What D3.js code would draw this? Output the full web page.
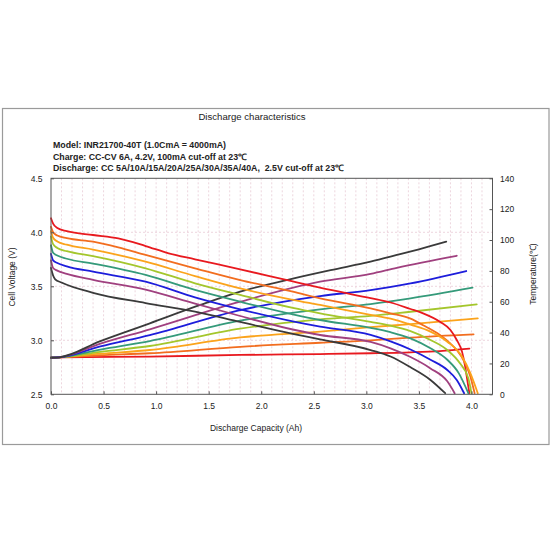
<!DOCTYPE html>
<html><head><meta charset="utf-8">
<script src="https://cdn.jsdelivr.net/npm/d3@7"></script>
<style>
body{margin:0;background:#fff}
svg{display:block}
text{font-family:"Liberation Sans",Arial,Helvetica,sans-serif;fill:#222}
</style>
</head><body>
<svg id="chart" width="550" height="550"></svg>
<script>
// ---------- data ----------
const titleText = "Discharge characteristics";
const headerLines = [
  "Model: INR21700-40T (1.0CmA = 4000mA)",
  "Charge: CC-CV 6A, 4.2V, 100mA cut-off at 23\u2103",
  "Discharge: CC 5A/10A/15A/20A/25A/30A/35A/40A,  2.5V cut-off at 23\u2103"
];
const xTitle = "Discharge Capacity (Ah)";
const yLeftTitle = "Cell Voltage (V)";
const yRightTitle = "Temperature(\u2103)";

const capTicks = [0, 0.5, 1.0, 1.5, 2.0, 2.5, 3.0, 3.5, 4.0];
const voltTicks = [2.5, 3.0, 3.5, 4.0, 4.5];
const tempTicks = [0, 20, 40, 60, 80, 100, 120, 140];

const currents = ["5A", "10A", "15A", "20A", "25A", "30A", "35A", "40A"];
const seriesColors = ["#e8191f", "#f26d1f", "#fba31b", "#a4c62c", "#359a7a", "#1d1ddb", "#a0407f", "#3a3a3a"];

// voltage curves: [capacity Ah, voltage V]
const volt5A = [[0,4.13],[0.02,4.08],[0.06,4.04],[0.15,4.01],[0.4,3.975],[0.64,3.944],[0.9,3.873],[1.12,3.805],[1.37,3.75],[1.8,3.657],[2.3,3.545],[2.66,3.466],[3.04,3.39],[3.23,3.35],[3.42,3.29],[3.54,3.25],[3.70,3.172],[3.80,3.095],[3.86,3.003],[3.91,2.895],[3.94,2.756],[3.96,2.633],[3.98,2.51]];
const volt10A = [[0,4.05],[0.02,4.0],[0.06,3.97],[0.15,3.945],[0.4,3.913],[0.64,3.86],[0.9,3.79],[1.37,3.667],[1.8,3.558],[2.3,3.45],[2.56,3.389],[3.04,3.296],[3.23,3.25],[3.42,3.2],[3.54,3.14],[3.70,3.05],[3.80,2.97],[3.86,2.91],[3.94,2.787],[3.99,2.663],[4.03,2.51]];
const volt15A = [[0,4.01],[0.02,3.95],[0.06,3.915],[0.15,3.885],[0.4,3.84],[0.9,3.728],[1.37,3.595],[1.8,3.481],[2.3,3.375],[2.56,3.327],[3.04,3.235],[3.23,3.2],[3.42,3.145],[3.61,3.08],[3.77,2.987],[3.91,2.85],[3.99,2.694],[4.06,2.51]];
const volt20A = [[0,3.96],[0.02,3.89],[0.06,3.855],[0.15,3.825],[0.4,3.78],[0.9,3.667],[1.37,3.528],[1.8,3.42],[2.3,3.3],[2.56,3.25],[3.04,3.17],[3.23,3.135],[3.42,3.085],[3.61,3.003],[3.77,2.91],[3.89,2.787],[3.97,2.648],[4.0,2.51]];
const volt25A = [[0,3.88],[0.02,3.81],[0.06,3.785],[0.15,3.755],[0.4,3.71],[0.9,3.605],[1.37,3.466],[1.8,3.357],[2.3,3.24],[2.56,3.188],[3.04,3.115],[3.23,3.075],[3.42,3.018],[3.61,2.926],[3.77,2.82],[3.88,2.694],[3.97,2.51]];
const volt30A = [[0,3.80],[0.02,3.74],[0.06,3.715],[0.15,3.685],[0.4,3.635],[0.9,3.543],[1.37,3.398],[1.8,3.287],[2.3,3.175],[2.56,3.126],[3.04,3.05],[3.23,2.99],[3.42,2.915],[3.61,2.82],[3.77,2.725],[3.86,2.633],[3.93,2.51]];
const volt35A = [[0,3.74],[0.02,3.67],[0.06,3.645],[0.15,3.615],[0.4,3.56],[0.9,3.47],[1.37,3.34],[1.8,3.225],[2.3,3.1],[2.56,3.049],[3.04,2.985],[3.23,2.926],[3.42,2.845],[3.61,2.74],[3.77,2.62],[3.84,2.51]];
const volt40A = [[0,3.67],[0.02,3.6],[0.04,3.565],[0.1,3.535],[0.4,3.44],[0.9,3.345],[1.37,3.265],[1.8,3.17],[2.3,3.06],[2.56,3.009],[3.04,2.91],[3.23,2.85],[3.42,2.75],[3.61,2.633],[3.75,2.51]];

// temperature curves: [capacity Ah, temperature C]
const temp5A = [[0,23.7],[0.1,23.9],[0.94,24.4],[1.8,25.5],[2.56,26.1],[3.04,26.6],[3.42,27.2],[3.7,28],[3.98,29.6]];
const temp10A = [[0,23.7],[0.08,24],[0.47,25.3],[0.94,26.6],[1.8,30.8],[2.56,33.4],[3.04,35.0],[3.42,36.8],[4.02,38.9]];
const temp15A = [[0,23.7],[0.08,24],[0.47,26.3],[0.94,28.7],[1.8,36.9],[2.56,40.6],[3.04,43.5],[3.42,45.5],[4.06,49.2]];
const temp20A = [[0,23.7],[0.08,24],[0.47,27.5],[0.94,31.3],[1.8,42.5],[2.56,48.6],[3.04,50.8],[3.42,53.5],[4.05,58.3]];
const temp25A = [[0,23.7],[0.08,24],[0.47,29],[0.94,34.5],[1.8,47.7],[2.56,55.1],[3.04,58.5],[3.42,62.2],[4.01,69.1]];
const temp30A = [[0,23.7],[0.08,24],[0.47,31],[0.94,38.4],[1.8,54.6],[2.56,63.7],[3.04,67.5],[3.42,71.9],[3.95,79.9]];
const temp35A = [[0,23.7],[0.08,24],[0.47,32.8],[0.94,42.1],[1.8,60],[2.56,73],[3.04,78],[3.29,82],[3.86,89.8]];
const temp40A = [[0,23.7],[0.08,24],[0.47,34.5],[0.94,46],[1.42,57.9],[1.8,66.5],[2.3,75],[2.66,80.5],[3.04,86],[3.29,90.3],[3.5,94],[3.76,98.9]];

const voltSeries = [volt5A, volt10A, volt15A, volt20A, volt25A, volt30A, volt35A, volt40A];
const tempSeries = [temp5A, temp10A, temp15A, temp20A, temp25A, temp30A, temp35A, temp40A];

// ---------- layout ----------
const svg = d3.select("#chart");
const L = 51, R = 492.5, T = 178.3, B = 394.3;

const x = d3.scaleLinear().domain([0, 4.2]).range([L, R]);
const yV = d3.scaleLinear().domain([2.5, 4.5]).range([B, T]);
const yT = d3.scaleLinear().domain([0, 140]).range([B, T]);

svg.append("rect").attr("width", 550).attr("height", 550).attr("fill", "#fff");

// outer frame
svg.append("rect")
  .attr("x", 2.5).attr("y", 108.5).attr("width", 546.5).attr("height", 336)
  .attr("fill", "none").attr("stroke", "#9a9a9a").attr("stroke-width", 1.2);

// title + header
svg.append("text").attr("x", 252).attr("y", 119.5).attr("text-anchor", "middle")
  .style("font-size", "9.6px").text(titleText);
svg.append("g").selectAll("text").data(headerLines).join("text")
  .attr("x", 53).attr("y", (d, i) => 148 + i * 11.5)
  .attr("xml:space", "preserve").style("white-space", "pre")
  .style("font-size", "8.8px").style("font-weight", "bold").text(d => d);

// grid
const grid = svg.append("g");
grid.selectAll("line.v").data(d3.range(1, 42).map(d => d / 10)).join("line")
  .attr("class", "v")
  .attr("x1", d => x(d)).attr("x2", d => x(d)).attr("y1", T).attr("y2", B)
  .attr("stroke", "#e8cbd6").attr("stroke-width", 0.8).attr("stroke-dasharray", "2,2");
grid.selectAll("line.h").data(voltTicks.slice(1, -1)).join("line")
  .attr("class", "h")
  .attr("x1", L).attr("x2", R).attr("y1", d => yV(d)).attr("y2", d => yV(d))
  .attr("stroke", "#e8cbd6").attr("stroke-width", 0.8).attr("stroke-dasharray", "2,2");

// curves
const lineV = d3.line().x(d => x(d[0])).y(d => yV(d[1])).curve(d3.curveMonotoneX);
const lineT = d3.line().x(d => x(d[0])).y(d => yT(d[1])).curve(d3.curveMonotoneX);
const curves = svg.append("g").attr("fill", "none").attr("stroke-linejoin", "round").attr("stroke-linecap", "round");
tempSeries.forEach((s, i) => {
  curves.append("path").attr("d", lineT(s)).attr("stroke", seriesColors[i]).attr("stroke-width", 1.8);
});
voltSeries.forEach((s, i) => {
  curves.append("path").attr("d", lineV(s)).attr("stroke", seriesColors[i]).attr("stroke-width", 1.8);
});

// axes
const axisStyle = g => {
  g.select(".domain").remove();
  g.selectAll(".tick line").attr("stroke", "#555");
  g.selectAll("text").style("font-size", "8.5px").attr("fill", "#222")
    .style("font-family", "'Liberation Sans', Arial, sans-serif");
};
svg.append("g").attr("transform", `translate(0,${B})`)
  .call(d3.axisBottom(x).tickValues(capTicks).tickFormat(d3.format(".1f")).tickSizeInner(-3).tickSizeOuter(0).tickPadding(9))
  .call(axisStyle);
svg.append("g").attr("transform", `translate(${L},0)`)
  .call(d3.axisLeft(yV).tickValues(voltTicks).tickFormat(d3.format(".1f")).tickSizeInner(-3).tickSizeOuter(0).tickPadding(8.5))
  .call(axisStyle);
svg.append("g").attr("transform", `translate(${R},0)`)
  .call(d3.axisRight(yT).tickValues(tempTicks).tickFormat(d3.format("d")).tickSizeInner(-3).tickSizeOuter(0).tickPadding(7.5))
  .call(axisStyle);

// plot frame
svg.append("rect").attr("x", L).attr("y", T).attr("width", R - L).attr("height", B - T)
  .attr("fill", "none").attr("stroke", "#555").attr("stroke-width", 1);

// axis titles
svg.append("text").attr("x", 256).attr("y", 431).attr("text-anchor", "middle")
  .style("font-size", "8.5px").text(xTitle);
svg.append("text").attr("transform", "translate(14.5,277) rotate(-90)").attr("text-anchor", "middle")
  .style("font-size", "8.5px").text(yLeftTitle);
svg.append("text").attr("transform", "translate(536,274) rotate(-90)").attr("text-anchor", "middle")
  .style("font-size", "8.5px").text(yRightTitle);
</script>
</body></html>
